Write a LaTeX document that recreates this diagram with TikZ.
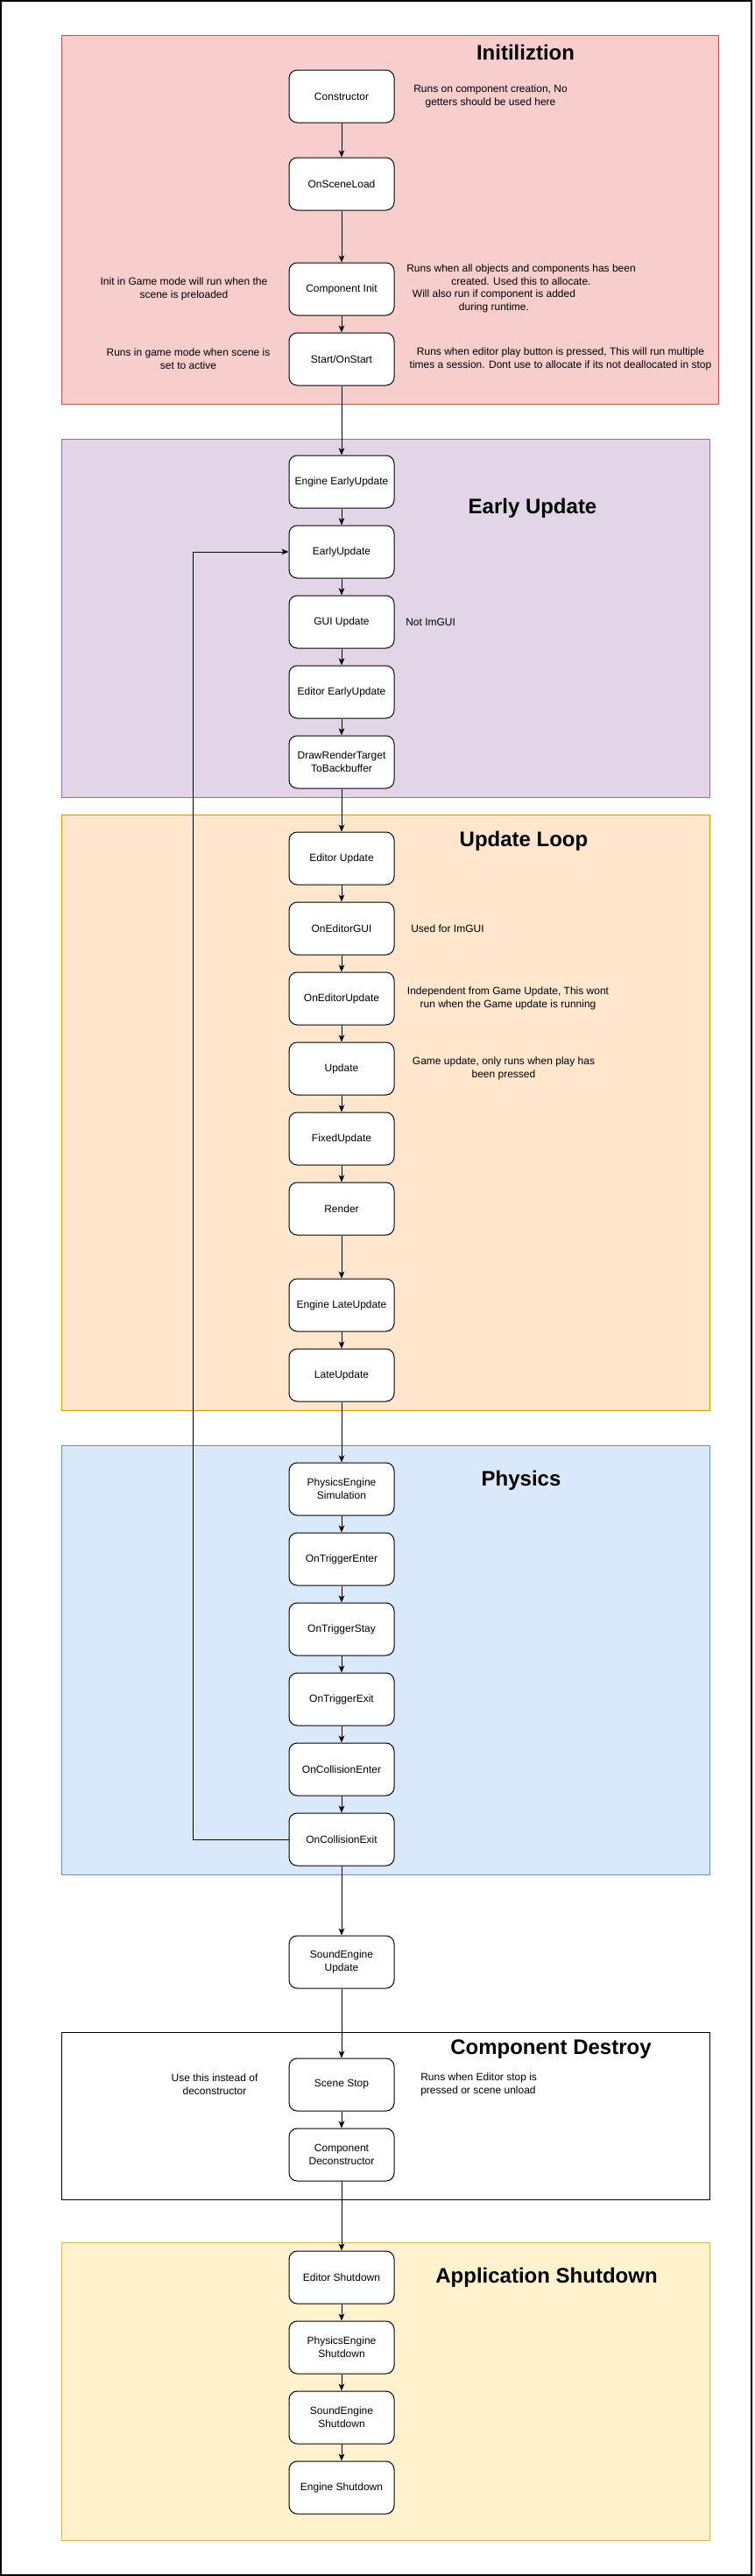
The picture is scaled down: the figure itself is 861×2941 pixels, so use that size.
\documentclass[tikz,border=0pt]{standalone}
\usepackage{fontspec}
\setmainfont{Liberation Sans}
\usepackage{xcolor}
\usepackage{tikz}
\usetikzlibrary{arrows.meta}

\definecolor{initfill}{RGB}{248,206,204}
\definecolor{initline}{RGB}{184,84,80}
\definecolor{earlyfill}{RGB}{225,213,231}
\definecolor{earlyline}{RGB}{150,115,166}
\definecolor{loopfill}{RGB}{255,230,204}
\definecolor{loopline}{RGB}{215,155,0}
\definecolor{physfill}{RGB}{218,232,252}
\definecolor{physline}{RGB}{108,142,191}
\definecolor{shutfill}{RGB}{255,242,204}
\definecolor{shutline}{RGB}{214,182,86}

\tikzset{
  stage/.style={draw=black, fill=white, rounded corners=7pt, line width=0.75pt, minimum width=90pt, minimum height=45pt, inner sep=1pt, align=center, font=\fontsize{9}{11}\selectfont},
  note/.style={align=center, inner sep=0.75pt, font=\fontsize{9}{11.25}\selectfont},
  grouptitle/.style={inner sep=0.75pt, font=\fontsize{18}{21}\selectfont\bfseries},
  flow/.style={line width=0.75pt, -{Stealth[length=6pt,width=5pt,inset=1.5pt]}},
}

\begin{document}
\begin{tikzpicture}[x=0.75pt,y=0.75pt,yscale=-1,xscale=1]
        \useasboundingbox (0,0) rectangle (861,2941);
        \draw [line width=1.1pt] (1,1) rectangle (858,2940) ;

        % groups
        \draw [draw=initline, fill=initfill, line width=0.75pt] (70,40) rectangle (820,461) ;
        \draw [draw=earlyline, fill=earlyfill, line width=0.75pt] (70,501) rectangle (810,910) ;
        \draw [draw=loopline, fill=loopfill, line width=0.75pt] (70,930) rectangle (810,1610) ;
        \draw [draw=physline, fill=physfill, line width=0.75pt] (70,1650) rectangle (810,2140) ;
        \draw [draw=black, fill=white, line width=0.75pt] (70,2320) rectangle (810,2511) ;
        \draw [draw=shutline, fill=shutfill, line width=0.75pt] (70,2560) rectangle (810,2900) ;

        \node [grouptitle] (tinit) at (600,60) {Initiliztion};
        \node [grouptitle] (tearly) at (608,580) {Early Update};
        \node [grouptitle] (tloop) at (598,960) {Update Loop};
        \node [grouptitle] (tphys) at (595,1690) {Physics};
        \node [grouptitle] (tdestroy) at (629,2340) {Component Destroy};
        \node [grouptitle] (tshut) at (624,2600) {Application Shutdown};

        % initilization
        \node [stage] (ctor) at (390,110) {Constructor};
        \node [stage] (sceneload) at (390,210) {OnSceneLoad};
        \node [stage] (compinit) at (390,330) {Component Init};
        \node [stage] (start) at (390,410) {Start/OnStart};

        % early update
        \node [stage] (engearly) at (390,550) {Engine EarlyUpdate};
        \node [stage] (early) at (390,630) {EarlyUpdate};
        \node [stage] (gui) at (390,710) {GUI Update};
        \node [stage] (edearly) at (390,790) {Editor EarlyUpdate};
        \node [stage] (drawrt) at (390,870) {DrawRenderTarget\\ToBackbuffer};

        % update loop
        \node [stage] (edupdate) at (390,980) {Editor Update};
        \node [stage] (edgui) at (390,1060) {OnEditorGUI};
        \node [stage] (onedupdate) at (390,1140) {OnEditorUpdate};
        \node [stage] (update) at (390,1220) {Update};
        \node [stage] (fixed) at (390,1300) {FixedUpdate};
        \node [stage] (render) at (390,1380) {Render};
        \node [stage] (englate) at (390,1490) {Engine LateUpdate};
        \node [stage] (late) at (390,1570) {LateUpdate};

        % physics
        \node [stage] (physsim) at (390,1700) {PhysicsEngine\\Simulation};
        \node [stage] (trigenter) at (390,1780) {OnTriggerEnter};
        \node [stage] (trigstay) at (390,1860) {OnTriggerStay};
        \node [stage] (trigexit) at (390,1940) {OnTriggerExit};
        \node [stage] (collenter) at (390,2020) {OnCollisionEnter};
        \node [stage] (collexit) at (390,2100) {OnCollisionExit};

        \node [stage] (soundupd) at (390,2240) {SoundEngine\\Update};

        % destroy and shutdown
        \node [stage] (scenestop) at (390,2380) {Scene Stop};
        \node [stage] (compdestr) at (390,2460) {Component\\Deconstructor};
        \node [stage] (edshut) at (390,2600) {Editor Shutdown};
        \node [stage] (physshut) at (390,2680) {PhysicsEngine\\Shutdown};
        \node [stage] (soundshut) at (390,2760) {SoundEngine\\Shutdown};
        \node [stage] (engshut) at (390,2840) {Engine Shutdown};

        \draw [flow] (ctor) -- (sceneload) ;
        \draw [flow] (sceneload) -- (compinit) ;
        \draw [flow] (compinit) -- (start) ;
        \draw [flow] (start) -- (engearly) ;
        \draw [flow] (engearly) -- (early) ;
        \draw [flow] (early) -- (gui) ;
        \draw [flow] (gui) -- (edearly) ;
        \draw [flow] (edearly) -- (drawrt) ;
        \draw [flow] (drawrt) -- (edupdate) ;
        \draw [flow] (edupdate) -- (edgui) ;
        \draw [flow] (edgui) -- (onedupdate) ;
        \draw [flow] (onedupdate) -- (update) ;
        \draw [flow] (update) -- (fixed) ;
        \draw [flow] (fixed) -- (render) ;
        \draw [flow] (render) -- (englate) ;
        \draw [flow] (englate) -- (late) ;
        \draw [flow] (late) -- (physsim) ;
        \draw [flow] (physsim) -- (trigenter) ;
        \draw [flow] (trigenter) -- (trigstay) ;
        \draw [flow] (trigstay) -- (trigexit) ;
        \draw [flow] (trigexit) -- (collenter) ;
        \draw [flow] (collenter) -- (collexit) ;
        \draw [flow] (collexit) -- (soundupd) ;
        \draw [flow] (soundupd) -- (scenestop) ;
        \draw [flow] (scenestop) -- (compdestr) ;
        \draw [flow] (compdestr) -- (edshut) ;
        \draw [flow] (edshut) -- (physshut) ;
        \draw [flow] (physshut) -- (soundshut) ;
        \draw [flow] (soundshut) -- (engshut) ;

        % loop back
        \coordinate (loopturn) at (220,2100) ;
        \draw [flow] (collexit.west) -- (loopturn) |- (early.west) ;

        % notes
        \node [note] (nctor) at (560,110) {Runs on component creation, No\\getters should be used here};
        \node [note] (ninitA) at (595,314) {Runs when all objects and components has been\\created. Used this to allocate.};
        \node [note] (ninitB) at (564,344) {Will also run if component is added\\during runtime.};
        \node [note] (ninitL) at (210,330) {Init in Game mode will run when the\\scene is preloaded};
        \node [note] (nstartL) at (215,410) {Runs in game mode when scene is\\set to active};
        \node [note] (nstartR) at (640,410) {Runs when editor play button is pressed, This will run multiple\\times a session. Dont use to allocate if its not deallocated in stop};
        \node [note, anchor=west] (ngui) at (462,710) {Not ImGUI};
        \node [note, anchor=west] (nedgui) at (468,1060) {Used for ImGUI};
        \node [note] (nedupdate) at (580,1140) {Independent from Game Update, This wont\\run when the Game update is running};
        \node [note] (nupdate) at (575,1220) {Game update, only runs when play has\\been pressed};
        \node [note] (nstopL) at (245,2380) {Use this instead of\\deconstructor};
        \node [note, align=left, anchor=west] (nstopR) at (479,2380) {Runs when Editor stop is\\pressed or scene unload};
\end{tikzpicture}
\end{document}
